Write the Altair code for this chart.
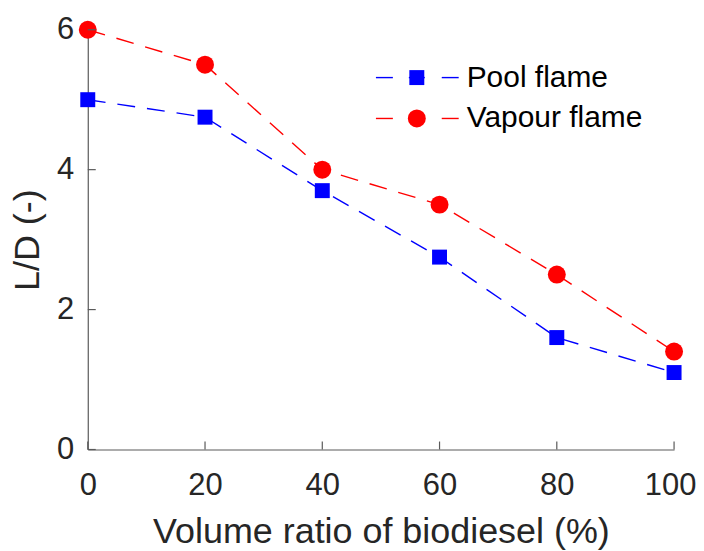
import altair as alt
import pandas as pd

# ---- data ----
volume_ratio = [0, 20, 40, 60, 80, 100]
pool_flame = [5.0, 4.75, 3.7, 2.75, 1.6, 1.1]
vapour_flame = [6.0, 5.5, 4.0, 3.5, 2.5, 1.4]
series_names = ["Pool flame", "Vapour flame"]
series_colors = ["#0000FF", "#FF0000"]
x_ticks = [0, 20, 40, 60, 80, 100]
y_ticks = [0, 2, 4, 6]

W, H = 588, 421
FONT = "Liberation Sans"
TXT = "#262626"
AX = "#5a5a5a"

df = pd.DataFrame({
    "x": volume_ratio * 2,
    "y": pool_flame + vapour_flame,
    "series": [series_names[0]] * 6 + [series_names[1]] * 6,
})

xs = alt.Scale(domain=[0, 100], nice=False, zero=False)
ys = alt.Scale(domain=[0, 6], nice=False, zero=False)

xaxis = alt.Axis(values=x_ticks, title="Volume ratio of biodiesel (%)", ticks=False,
                 grid=False, domainColor=AX, domainWidth=1.2, labelFont=FONT,
                 labelFontSize=31, labelColor=TXT, labelPadding=21, labelFlush=False,
                 labelOffset=alt.condition("datum.value == 100", alt.value(-4), alt.value(0)),
                 titleFont=FONT, titleFontSize=36, titleFontWeight="normal",
                 titleColor=TXT, titlePadding=14, format="d")
yaxis = alt.Axis(values=y_ticks, title="L/D (-)", ticks=False, grid=False,
                 domainColor=AX, domainWidth=1.2, labelFont=FONT, labelFontSize=31,
                 labelColor=TXT, labelPadding=14, labelFlush=False, titleFont=FONT,
                 titleFontSize=36, titleFontWeight="normal", titleColor=TXT,
                 titlePadding=10, format="d")

color = alt.Color("series:N", scale=alt.Scale(domain=series_names, range=series_colors),
                  legend=None)

SQ, CI = 225, 324

base = alt.Chart(df)
lines = base.mark_line(strokeWidth=1.4, strokeDash=[18, 12]).encode(
    x=alt.X("x:Q", scale=xs, axis=xaxis),
    y=alt.Y("y:Q", scale=ys, axis=yaxis),
    color=color,
    detail="series:N",
)
pool_pts = alt.Chart(df[df.series == series_names[0]]).mark_point(
    shape="square", filled=True, size=SQ, opacity=1, color=series_colors[0]
).encode(x=alt.X("x:Q", scale=xs), y=alt.Y("y:Q", scale=ys))
vap_pts = alt.Chart(df[df.series == series_names[1]]).mark_point(
    shape="circle", filled=True, size=CI, opacity=1, color=series_colors[1]
).encode(x=alt.X("x:Q", scale=xs), y=alt.Y("y:Q", scale=ys))

# inward ticks
xt = alt.Chart(pd.DataFrame({"t": x_ticks})).mark_rule(color=AX, strokeWidth=1.2).encode(
    x=alt.X("t:Q", scale=xs), y=alt.value(H), y2=alt.value(H - 8))
yt = alt.Chart(pd.DataFrame({"t": y_ticks})).mark_rule(color=AX, strokeWidth=1.2).encode(
    y=alt.Y("t:Q", scale=ys), x=alt.value(0), x2=alt.value(8))

# legend
def legend_entry(i, shape, size, ypix):
    d = alt.Chart(pd.DataFrame({"series": [series_names[i]]}))
    c = series_colors[i]
    l1 = d.mark_rule(color=c, strokeWidth=1.4).encode(
        x=alt.value(289), x2=alt.value(306), y=alt.value(ypix))
    l2 = d.mark_rule(color=c, strokeWidth=1.4).encode(
        x=alt.value(355), x2=alt.value(372), y=alt.value(ypix))
    l3 = d.mark_rule(color=c, strokeWidth=1.4).encode(
        x=alt.value(322), x2=alt.value(338), y=alt.value(ypix))
    p = d.mark_point(shape=shape, filled=True, size=size, opacity=1, color=c).encode(
        x=alt.value(330), y=alt.value(ypix))
    t = d.mark_text(align="left", baseline="middle", font=FONT, fontSize=30,
                    color="#000000").encode(
        x=alt.value(380), y=alt.value(ypix), text="series:N")
    return l1 + l2 + l3 + p + t

leg = legend_entry(0, "square", SQ, 48) + legend_entry(1, "circle", CI, 89)

chart = alt.layer(lines, pool_pts, vap_pts, xt, yt, leg).properties(
    width=W, height=H,
    background="white",
    autosize=alt.AutoSizeParams(type="none"),
    padding={"left": 80, "top": 21, "right": 22, "bottom": 100},
).configure_view(stroke=None)

chart.save("out.html", embed_options={"renderer": "svg", "actions": False})
